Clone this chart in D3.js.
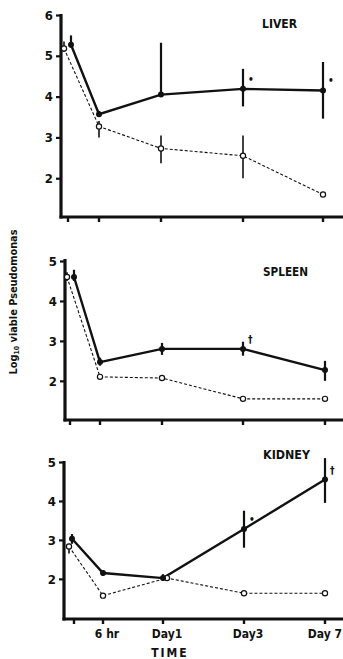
<!DOCTYPE html>
<html>
<head>
<meta charset="utf-8">
<script src="https://cdn.jsdelivr.net/npm/d3@7"></script>
<style>
  body { margin: 0; background: #fff; }
  svg text { font-family: "Liberation Sans Narrow", "DejaVu Sans Condensed", "Arial Narrow", sans-serif; font-weight: bold; fill: #111; }
</style>
</head>
<body>
<div id="chart"></div>
<script>
// time points (first one is the unlabelled baseline)
var times = ["0", "6 hr", "Day 1", "Day 3", "Day 7"];
var timeLabels = ["", "6 hr", "Day1", "Day3", "Day 7"];

// LIVER
var liverSolid = [5.27, 3.57, 4.05, 4.19, 4.15];
var liverSolidLo = [5.2, 3.5, 4.05, 3.76, 3.46];
var liverSolidHi = [5.5, 3.65, 5.32, 4.68, 4.85];
var liverOpen = [5.18, 3.27, 2.73, 2.55, 1.6];
var liverOpenLo = [5.1, 3.0, 2.37, 2.0, 1.6];
var liverOpenHi = [5.35, 3.4, 3.05, 3.05, 1.6];
var liverMarks = ["", "", "", "\u2022", "\u2022"];
var liverTicks = [2, 3, 4, 5, 6];

// SPLEEN
var spleenSolid = [4.6, 2.47, 2.8, 2.8, 2.27];
var spleenSolidLo = [4.5, 2.38, 2.65, 2.63, 2.0];
var spleenSolidHi = [4.78, 2.58, 2.95, 2.98, 2.5];
var spleenOpen = [4.6, 2.1, 2.07, 1.55, 1.55];
var spleenOpenLo = [4.5, 2.1, 2.07, 1.55, 1.55];
var spleenOpenHi = [4.72, 2.1, 2.07, 1.55, 1.55];
var spleenMarks = ["", "", "", "\u2020", ""];
var spleenTicks = [2, 3, 4, 5];

// KIDNEY
var kidneySolid = [3.03, 2.15, 2.02, 3.28, 4.55];
var kidneySolidLo = [2.9, 2.08, 1.95, 2.8, 3.95];
var kidneySolidHi = [3.15, 2.22, 2.12, 3.75, 5.1];
var kidneyOpen = [2.83, 1.57, 2.02, 1.63, 1.63];
var kidneyOpenLo = [2.65, 1.57, 2.02, 1.63, 1.63];
var kidneyOpenHi = [2.9, 1.57, 2.02, 1.63, 1.63];
var kidneyMarks = ["", "", "", "\u2022", "\u2020"];
var kidneyTicks = [2, 3, 4, 5];

var W = 343, H = 659;

var svg = d3.select("#chart").append("svg")
  .attr("width", W)
  .attr("height", H);

// panel layout: axis position, x tick positions, y domain/range
var panels = [
  {name: "LIVER", titleX: 262, titleY: 28, titleW: 35, axisX: 61, top: 14,
   xr: [68, 99, 161, 243, 323], yd: [1.05, 6], yr: [217, 15], ticks: liverTicks,
   solid: liverSolid, sLo: liverSolidLo, sHi: liverSolidHi,
   open: liverOpen, oLo: liverOpenLo, oHi: liverOpenHi, marks: liverMarks, dx0: 3, openDx: [-4, 0, 0, 0, 0]},
  {name: "SPLEEN", titleX: 263, titleY: 276, titleW: 45, axisX: 65, top: 259,
   xr: [70, 100, 162, 243, 325], yd: [1.02, 5], yr: [420, 261], ticks: spleenTicks,
   solid: spleenSolid, sLo: spleenSolidLo, sHi: spleenSolidHi,
   open: spleenOpen, oLo: spleenOpenLo, oHi: spleenOpenHi, marks: spleenMarks, dx0: 4, openDx: [-3, 0, 0, 0, 0]},
  {name: "KIDNEY", titleX: 263, titleY: 459, titleW: 47, axisX: 64, top: 461,
   xr: [74, 103, 163, 244, 325], yd: [0.97, 5], yr: [619, 462], ticks: kidneyTicks,
   solid: kidneySolid, sLo: kidneySolidLo, sHi: kidneySolidHi,
   open: kidneyOpen, oLo: kidneyOpenLo, oHi: kidneyOpenHi, marks: kidneyMarks, dx0: -2, openDx: [-5, 0, 4, 0, 0]}
];

panels.forEach(function(p, pi) {
  var g = svg.append("g");

  var x = d3.scaleLinear()
    .domain(d3.range(times.length))
    .range(p.xr);
  var y = d3.scaleLinear()
    .domain(p.yd)
    .range(p.yr);

  var bottom = y(p.yd[0]);

  // y axis
  var yAxis = g.append("g")
    .attr("transform", "translate(" + p.axisX + ",0)")
    .call(d3.axisLeft(y).tickValues(p.ticks).tickSize(5).tickPadding(3).tickFormat(d3.format("d")));
  yAxis.select(".domain").remove();
  yAxis.selectAll(".tick line").attr("stroke", "#111").attr("stroke-width", 2.2);
  yAxis.selectAll(".tick text").style("font-size", "13px").attr("fill", "#111");

  g.append("line")
    .attr("x1", p.axisX).attr("x2", p.axisX)
    .attr("y1", p.top).attr("y2", bottom + 1.5)
    .attr("stroke", "#111").attr("stroke-width", 3.2);

  // x axis
  g.append("line")
    .attr("x1", p.axisX - 1.5).attr("x2", W)
    .attr("y1", bottom).attr("y2", bottom)
    .attr("stroke", "#111").attr("stroke-width", 3.2);

  g.selectAll(".xtick")
    .data(times)
    .enter().append("line")
    .attr("class", "xtick")
    .attr("x1", function(d, i) { return x(i); })
    .attr("x2", function(d, i) { return x(i); })
    .attr("y1", bottom)
    .attr("y2", bottom + 5)
    .attr("stroke", "#111").attr("stroke-width", 2.4);

  if (pi === 2) {
    var last = timeLabels.length - 1;
    g.selectAll(".xlab")
      .data(timeLabels)
      .enter().append("text")
      .attr("class", "xlab")
      .attr("x", function(d, i) { return i === last ? W - 1 : x(i) + 4; })
      .attr("y", 638)
      .attr("text-anchor", function(d, i) { return i === last ? "end" : "middle"; })
      .style("font-size", "12px")
      .text(function(d) { return d; });

    g.append("text")
      .attr("x", 170).attr("y", 657)
      .attr("text-anchor", "middle")
      .style("font-size", "12px")
      .style("letter-spacing", "2px")
      .text("TIME");
  }

  // title
  g.append("text")
    .attr("x", p.titleX).attr("y", p.titleY)
    .attr("textLength", p.titleW)
    .attr("lengthAdjust", "spacingAndGlyphs")
    .style("font-size", "12px")
    .text(p.name);

  var sx = function(i) { return x(i) + (i === 0 ? p.dx0 : 0); };
  var ox = function(i) { return x(i) + p.openDx[i]; };

  // open series (dashed)
  var openLine = d3.line()
    .x(function(d, i) { return ox(i); })
    .y(function(d) { return y(d); });

  g.append("path")
    .datum(p.open)
    .attr("d", openLine)
    .attr("fill", "none")
    .attr("stroke", "#111")
    .attr("stroke-width", 1.1)
    .attr("stroke-dasharray", "3,2");

  g.selectAll(".oerr")
    .data(p.open)
    .enter().append("line")
    .attr("class", "oerr")
    .attr("x1", function(d, i) { return ox(i); })
    .attr("x2", function(d, i) { return ox(i); })
    .attr("y1", function(d, i) { return y(p.oLo[i]); })
    .attr("y2", function(d, i) { return y(p.oHi[i]); })
    .attr("stroke", "#111")
    .attr("stroke-width", 1.6);

  // solid series
  var solidLine = d3.line()
    .x(function(d, i) { return sx(i); })
    .y(function(d) { return y(d); });

  g.append("path")
    .datum(p.solid)
    .attr("d", solidLine)
    .attr("fill", "none")
    .attr("stroke", "#111")
    .attr("stroke-width", 2.4);

  g.selectAll(".serr")
    .data(p.solid)
    .enter().append("line")
    .attr("class", "serr")
    .attr("x1", function(d, i) { return sx(i); })
    .attr("x2", function(d, i) { return sx(i); })
    .attr("y1", function(d, i) { return y(p.sLo[i]); })
    .attr("y2", function(d, i) { return y(p.sHi[i]); })
    .attr("stroke", "#111")
    .attr("stroke-width", 2.2);

  g.selectAll(".opt")
    .data(p.open)
    .enter().append("circle")
    .attr("class", "opt")
    .attr("cx", function(d, i) { return ox(i); })
    .attr("cy", function(d) { return y(d); })
    .attr("r", 2.6)
    .attr("fill", "#fff")
    .attr("stroke", "#111")
    .attr("stroke-width", 1.2);

  g.selectAll(".spt")
    .data(p.solid)
    .enter().append("circle")
    .attr("class", "spt")
    .attr("cx", function(d, i) { return sx(i); })
    .attr("cy", function(d) { return y(d); })
    .attr("r", 3)
    .attr("fill", "#111");

  // significance marks
  g.selectAll(".mark")
    .data(p.marks)
    .enter().append("text")
    .attr("class", "mark")
    .attr("x", function(d, i) { return sx(i) + 5; })
    .attr("y", function(d, i) { return y(p.solid[i]) - 6; })
    .style("font-size", "10px")
    .style("fill", "#111")
    .text(function(d) { return d; });
});

// y axis label
svg.append("text")
  .attr("transform", "translate(17,302) rotate(-90)")
  .attr("text-anchor", "middle")
  .attr("textLength", 145)
  .attr("lengthAdjust", "spacingAndGlyphs")
  .style("font-size", "11px")
  .html("Log<tspan font-size='7px' dy='2'>10</tspan><tspan dy='-2'> viable  Pseudomonas</tspan>");
</script>
</body>
</html>
